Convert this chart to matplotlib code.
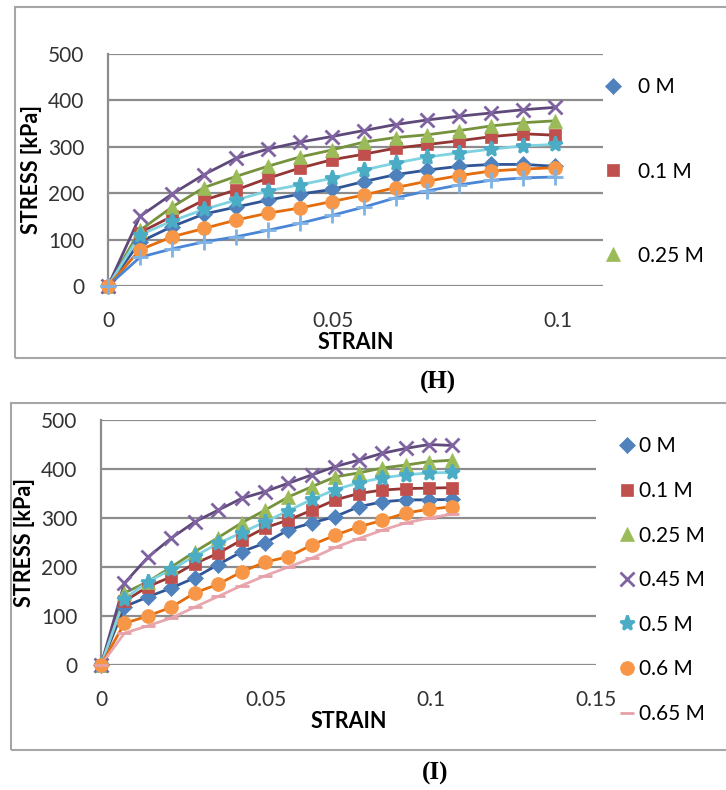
import matplotlib.pyplot as plt
from matplotlib.lines import Line2D
from matplotlib.patches import Rectangle

plt.rcParams['font.family'] = ['Lato', 'DejaVu Sans']

labels = ['0 M', '0.1 M', '0.25 M', '0.45 M', '0.5 M', '0.6 M', '0.65 M']

# panel (H)
strain_h = [0, 0.0071, 0.0142, 0.0213, 0.0284, 0.0355, 0.0426, 0.0497,
            0.0568, 0.0639, 0.071, 0.0781, 0.0852, 0.0923, 0.0994]
h_0 = [0, 95, 128, 155, 170, 185, 198, 208, 225, 240, 250, 258, 262, 262, 258]
h_01 = [0, 115, 150, 185, 207, 232, 254, 272, 284, 297, 305, 313, 322, 328, 325]
h_025 = [0, 120, 170, 212, 236, 258, 278, 293, 310, 320, 326, 335, 345, 352, 356]
h_045 = [0, 150, 198, 240, 275, 295, 310, 322, 335, 348, 358, 366, 373, 380, 385]
h_05 = [0, 110, 140, 165, 185, 205, 218, 232, 250, 265, 278, 287, 295, 302, 305]
h_06 = [0, 78, 106, 124, 142, 157, 168, 182, 196, 212, 226, 238, 248, 252, 255]
h_065 = [0, 62, 80, 95, 106, 120, 135, 152, 170, 190, 205, 218, 228, 233, 235]

# panel (I)
strain_i = [0, 0.0071, 0.0142, 0.0213, 0.0284, 0.0355, 0.0426, 0.0497,
            0.0568, 0.0639, 0.071, 0.0781, 0.0852, 0.0923, 0.0994, 0.1065]
i_0 = [0, 119, 139, 157, 178, 205, 231, 249, 276, 290, 303, 323, 333, 337, 337, 338]
i_01 = [0, 130, 160, 180, 207, 228, 255, 280, 296, 316, 337, 350, 357, 360, 361, 362]
i_025 = [0, 147, 170, 200, 231, 260, 290, 316, 343, 364, 384, 392, 402, 408, 415, 418]
i_045 = [0, 167, 220, 259, 292, 316, 340, 354, 371, 388, 405, 418, 432, 442, 450, 448]
i_05 = [0, 135, 170, 195, 222, 248, 270, 292, 315, 338, 358, 372, 382, 388, 392, 393]
i_06 = [0, 85, 100, 118, 147, 165, 190, 210, 221, 245, 265, 282, 295, 310, 318, 323]
i_065 = [0, 65, 80, 96, 118, 140, 162, 182, 200, 218, 240, 258, 275, 290, 300, 308]

# marker, marker colour, line colour, marker size
style_h = [('D', '#4F81BD', '#2F5597', 8),
           ('s', '#C0504D', '#943634', 9),
           ('^', '#9BBB59', '#76923C', 10),
           ('x', '#8064A2', '#5F497A', 10),
           ('*', '#4BACC6', '#7FD3E0', 11),
           ('o', '#F79646', '#E46C0A', 10),
           ('+', '#7FB2E5', '#4A86D6', 11)]
style_i = style_h[:6] + [('_', '#E6A0A8', '#E8A6AE', 10)]

fig = plt.figure(figsize=(7.26, 7.9), dpi=100)
W, H = 726, 790


def px_axes(l, t, r, b):
    return fig.add_axes([l / W, 1 - b / H, (r - l) / W, (b - t) / H])


def draw(ax, x, series, styles, xmax, xticks, xticklabels):
    for y, (m, mc, lc, ms) in zip(series, styles):
        ax.plot(x, y, color=lc, lw=2, zorder=2, clip_on=False)
        mew = 2 if m in ('x', '+', '_', '*') else 0.5
        ax.plot(x, y, ls='none', marker=m, ms=ms, color=mc, mec=mc, mew=mew,
                zorder=3, clip_on=False)
    ax.set_xlim(0, xmax)
    ax.set_ylim(0, 500)
    ax.set_yticks([0, 100, 200, 300, 400, 500])
    ax.set_xticks(xticks)
    ax.set_xticklabels(xticklabels)
    ax.grid(axis='y', color='#8C8C8C', lw=1.6, zorder=0)
    for s in ('top', 'right', 'bottom'):
        ax.spines[s].set_visible(False)
    ax.spines['left'].set_color('#8C8C8C')
    ax.spines['left'].set_linewidth(1.6)
    ax.tick_params(length=0, labelsize=15, colors='#333333', pad=17)
    ax.tick_params(axis='x', pad=18)
    ax.set_ylabel('STRESS [kPa]', fontsize=15.5, fontweight='bold', labelpad=4)
    ax.set_xlabel('STRAIN', fontsize=15.5, fontweight='bold', labelpad=1)
    ax.set_axisbelow(True)


def handles(styles):
    return [Line2D([], [], ls='none', marker=m, ms=ms, color=mc, mec=mc,
                   mew=2 if m in ('x', '+', '_', '*') else 0.5)
            for m, mc, lc, ms in styles]


# frames around each panel
fig.add_artist(Rectangle((15 / W, 1 - 358 / H), 1.2, (358 - 7) / H,
                         transform=fig.transFigure, fill=False,
                         ec='#A6A6A6', lw=1.5))
fig.add_artist(Rectangle((11 / W, 1 - 750 / H), 1.2, (750 - 403) / H,
                         transform=fig.transFigure, fill=False,
                         ec='#A6A6A6', lw=1.5))

ax1 = px_axes(108, 54, 603, 286)
draw(ax1, strain_h, [h_0, h_01, h_025, h_045, h_05, h_06, h_065], style_h,
     0.11, [0, 0.05, 0.1], ['0', '0.05', '0.1'])
ax1.legend(handles(style_h)[:3], labels[:3], loc='upper left',
           bbox_to_anchor=(592 / W, 1 - 69 / H), bbox_transform=fig.transFigure,
           frameon=False, fontsize=15, labelspacing=3.08, handletextpad=0.6,
           handlelength=1.2, borderaxespad=0)

ax2 = px_axes(101, 420, 596, 665)
draw(ax2, strain_i, [i_0, i_01, i_025, i_045, i_05, i_06, i_065], style_i,
     0.15, [0, 0.05, 0.1, 0.15], ['0', '0.05', '0.1', '0.15'])
ax2.legend(handles(style_i), labels, loc='upper left',
           bbox_to_anchor=(608 / W, 1 - 428 / H), bbox_transform=fig.transFigure,
           frameon=False, fontsize=15, labelspacing=1.18, handletextpad=0.1,
           handlelength=1.0, borderaxespad=0)

fig.text(438 / W, 1 - 382 / H, '(H)', ha='center', va='center', fontsize=18,
         fontweight='bold', family='Liberation Serif')
fig.text(435 / W, 1 - 773 / H, '(I)', ha='center', va='center', fontsize=18,
         fontweight='bold', family='Liberation Serif')

fig.savefig('out.png', dpi=100)
